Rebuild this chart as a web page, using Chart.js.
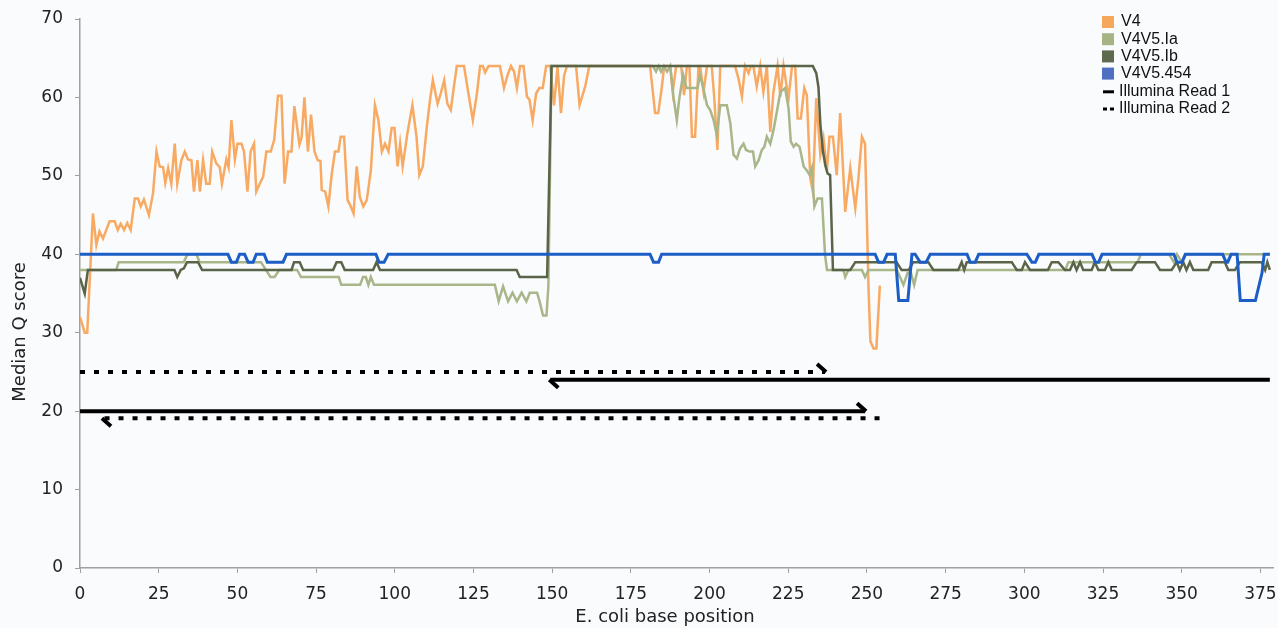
<!DOCTYPE html>
<html>
<head>
<meta charset="utf-8">
<script src="https://cdn.jsdelivr.net/npm/chart.js@4.4.1/dist/chart.umd.min.js"></script>
<style>
  html, body { margin: 0; padding: 0; background: #fafbfd; }
  #wrap { width: 1278px; height: 628px; }
</style>
</head>
<body>
<div id="wrap"><canvas id="qChart" width="1278" height="628"></canvas></div>
<script>
// Median Q score along E. coli base position (vertices)
const v4Pos = [0,1.5,2.3,4.1,5.2,6.2,7.3,9.4,11,12,12.9,14,15,16.1,17.4,18.4,19.3,20.3,21.9,23.2,24.3,25.3,26.4,27.1,28,29,30.1,30.9,32.2,33.3,34.3,35.4,36.2,37.3,38.1,39.1,40.1,41.2,42,43.3,44.4,45.1,46.5,47.2,48.1,49.2,50,51.3,52.1,53.2,54.2,55.3,56,57.1,58.2,59.2,60.6,61.7,62.9,64,65,66.1,67.2,68.1,69.7,70.4,71.3,72.4,73.4,74.5,75.5,76.4,76.8,77.9,78.9,80,81,82.1,82.8,83.9,85,85.8,86.9,87.9,88.9,90,91.1,92.4,93.7,94.8,95.9,96.9,98,99,99.9,100.9,101.7,102.5,104,105.6,106.9,107.8,108.9,110.2,111.2,112.1,113.6,114.6,115.7,116.7,117.8,118.8,119.7,122,123.4,124.8,126.1,127.1,128,128.7,129.8,133.4,134.7,135.8,136.9,137.9,138.8,139.8,140.9,142,142.8,143.8,144.9,145.9,147,148.1,149.4,150.6,151.7,152.8,153.8,154.7,157.6,158.7,160.5,161.8,181.1,182.7,183.7,184.8,185.6,187.5,188.3,189.4,191,191.9,192.8,193.6,194.4,195.4,196.5,197,198.1,199.2,200.7,201.5,202.5,203.4,208.1,209.2,210.3,211.3,212.4,213.1,213.9,215,216.1,217.1,218.2,219.3,220.3,221.6,222.5,223.5,225.1,226.2,227.2,228,229,230.1,230.9,232,232.8,233.9,235.2,236.2,237.3,238.1,239.2,240.4,241.5,243.1,244.7,246.3,247.3,248.4,249.4,250.5,251.1,252.1,253,254.1];
const v4Q = [32,30,30,45.2,41.2,42.9,42,44.2,44.2,43.1,43.9,43.1,44,43.1,47.1,47.1,46.1,47,45,47.8,53.1,51.2,51.1,49.1,51,49,54.1,49,52,53.1,52.1,52,48,52,48,52,49,49,53.1,51.6,51.1,49,52.1,51.1,57.1,52.1,54.1,54.1,53.1,48,53.1,54.1,48,49,49.9,53.1,53.1,54.6,60.2,60.2,49,53.1,53.1,58.9,54,54.9,60,53.1,57.8,53.1,52,51.9,48.2,48,46.1,50.3,53.1,53.1,55,55,46.9,46.3,45.2,51.2,47.3,46.1,46.9,50.7,59,57.1,53.1,54.1,53.1,56.1,56.1,51.2,54.1,51.2,55.4,59,55,50.1,51.2,56.3,59.7,62.2,59.2,60.5,62.2,59.2,58.4,61.4,64,64,60.5,57.1,60.5,64,64,63.2,64,64,61.2,62.8,64,63.3,61.2,64,64,60.1,59.7,57.1,60.5,61.2,61.2,64,64,59,63.9,58,62.8,64,64,59,61.4,64,64,58,58,61.2,64,64,60.7,64,64,60.3,64,64,55,55,64,64,60.7,64,64,59.9,53.3,64,64,62.4,60.1,64,63.1,64,64,61.4,64,60.7,64,55.6,60.7,64,60.1,64,59.9,64,64,57.3,57.3,61.2,60.3,49.7,48,59.9,52.7,54.8,50.7,55,55,50.1,58,45.4,51,45.9,49.7,55,54.1,35.7,28.9,28,28,36];

const iaPos = [0,11.5,12.3,33,34.1,37,38,57.5,60.5,61.8,63.3,69,70.2,82.2,83,89,89.9,90.8,91.6,92.4,93.4,131.8,133,134.4,136,137.4,138.8,140.3,141.8,142.9,145.2,146,147.1,148.2,148.8,149.8,182,183,183.8,184.6,185.5,186.5,187.5,188.6,189.6,190.4,191.6,192.7,195.2,196.2,197,198,199.2,200.2,201.3,202.3,203.4,205.5,206.6,207.6,208.7,209.7,210.8,211.6,212.7,213.8,214.5,215.6,216.6,217.4,218.2,219.3,220.3,221.4,222.5,224,225.1,225.8,226.7,227.5,228.6,229.9,230.9,231.8,232.5,233.3,234.3,235.7,236.7,237.3,242.5,243.1,244.1,248.4,249.4,250.5,259.5,261.6,262.9,264,265,266.1,313,314,336,337,346,347.5,348.5,350,351,378];
const iaQ = [38,38,39,39,40,40,39,39,37.1,37.1,38,38,37.1,37.1,36.1,36.1,37.1,37.1,36.1,37.1,36.1,36.1,34,35.9,34,35.1,34,35.1,34,35.1,35.1,34,32.2,32.2,36,64,64,63.3,64,63.3,64,63.3,64,59.9,57.1,59.9,62.9,61.2,61.2,61.2,62.9,61.2,59,58.4,57.1,55.2,59,59,56.7,52.7,52.2,53.5,54.1,53.3,53.1,53.1,51.2,52,53.3,53.7,55,54.1,55.8,58.2,60.7,61.2,58.6,54.4,53.7,54.1,53.7,51.2,50.7,50.1,51,46.1,47.1,47.1,39.9,38,38,37.1,38,38,37.1,38,38,36.1,37.6,37.6,36.1,38,38,39,39,40,40,39,40,39,40,40];

const ibPos = [0,1.5,2.5,30,30.9,32,33,34,37.5,38.8,67.2,68,69.8,70.9,80.4,81.5,83,84.1,93.1,94.2,95.3,138.7,139.7,148.4,149.8,232.8,233.9,234.6,235.2,236,236.8,237.5,238.3,239.2,244.7,246.3,259.4,261,263.3,264.7,269.5,271.1,279,280.1,280.9,281.7,296,297.6,299.2,300.2,301.8,307.5,308.7,310.8,312.9,314.5,315.6,316.6,317.7,318.7,321.4,322.4,323.5,325.6,326.7,327.8,334.1,335.7,341.5,343.1,346.8,348.4,349.4,350.5,351.5,352.6,353.7,358.4,359.5,363.7,364.8,366.9,368.5,375.4,376.5,377.2,378];
const ibQ = [37,35,38,38,37.1,38,38.2,39,39,38,38,39,39,38,38,39,39,38,38,39,38,38,37.1,37.1,64,64,63.1,61.3,56.6,53.2,51.3,50.3,50.1,38,38,39,39,38,38,39,39,38,38,39,38,39,39,38,38,39,38,38,39,39,38,38,39,38,39,38,38,39,38,38,39,38,38,39,39,38,38,39,38,39,38,39,38,38,39,39,38,38,39,39,38,39,38];

const p454Pos = [0,47,48.1,49.7,50.7,52.3,53.4,55,56,58.5,59.5,64.5,65.6,94,95,96.6,97.9,181.1,182.2,183.8,184.8,252.6,253.7,255.3,256.4,259,260.1,263,264.3,265.3,266.9,268.8,270.1,281.8,282.8,284.4,285.5,300.8,302.4,303.5,304.6,321.5,322.6,323.6,324.7,347.5,348.5,350.1,351.2,363,364.1,364.6,365.7,367.6,368.6,373.4,375.5,376.2,378];
const p454Q = [40,40,39,39,40,40,39,39,40,40,39,39,40,40,39,39,40,40,39,39,40,40,39,39,40,40,34.1,34.1,40,40,39,39,40,40,39,39,40,40,39,39,40,40,39,39,40,40,39,39,40,40,39,39,40,40,34.1,34.1,37.6,40,40];

// Illumina reads: start, arrow tip, Q level
const readNames = ['Illumina Read 1', 'Illumina Read 1', 'Illumina Read 2', 'Illumina Read 2'];
const readFrom = [0, 378, 0, 254];
const readTo = [249.4, 149.4, 236.7, 7.3];
const readQ = [20, 24, 25, 19.1];

const seriesNames = ['V4', 'V4V5.Ia', 'V4V5.Ib', 'V4V5.454'];
const yTicks = [0, 10, 20, 30, 40, 50, 60, 70];

const lineColors = ['#f8aa62', '#a8b68a', '#5a6448', '#1c5ec6'];
const legendColors = ['#f5a85c', '#a6b485', '#5e6a4e', '#4f6fc0'];

function toPoints(xs, ys) {
  return xs.map((x, i) => ({ x: x, y: ys[i] }));
}

const seriesData = [
  toPoints(v4Pos, v4Q),
  toPoints(iaPos, iaQ),
  toPoints(ibPos, ibQ),
  toPoints(p454Pos, p454Q)
];

const datasets = seriesNames.map((name, i) => ({
  label: name,
  data: seriesData[i],
  borderColor: lineColors[i],
  borderWidth: i === 3 ? 3 : 2.5,
  pointRadius: 0,
  tension: 0,
  order: 4 - i + 1
}));

readFrom.forEach((from, i) => {
  datasets.push({
    label: readNames[i],
    data: [{ x: from, y: readQ[i] }, { x: readTo[i], y: readQ[i] }],
    borderColor: '#000',
    borderWidth: 4,
    borderDash: readNames[i].endsWith('2') ? [5, 9] : [],
    borderCapStyle: 'butt',
    pointRadius: 0,
    order: 0
  });
});

// half arrow heads at the read tips
const readArrows = {
  id: 'readArrows',
  afterDatasetsDraw(chart) {
    const { ctx, scales: { x, y } } = chart;
    ctx.save();
    ctx.strokeStyle = '#000';
    ctx.lineWidth = 4;
    readFrom.forEach((from, i) => {
      const tx = x.getPixelForValue(readTo[i]);
      const ty = y.getPixelForValue(readQ[i]);
      const dir = readTo[i] > from ? 1 : -1;
      ctx.beginPath();
      ctx.moveTo(tx + dir * 1, ty);
      ctx.lineTo(tx - dir * 8, ty - dir * 8);
      ctx.stroke();
    });
    ctx.restore();
  }
};

// legend in the top right corner + axis titles
const cornerLegend = {
  id: 'cornerLegend',
  afterDraw(chart) {
    const ctx = chart.ctx;
    const left = 1102, top = 22, row = 17.2;
    ctx.save();
    ctx.font = '16px "Liberation Sans", Arial, sans-serif';
    ctx.textBaseline = 'middle';
    ctx.fillStyle = '#111';
    seriesNames.forEach((name, i) => {
      const cy = top + i * row;
      ctx.fillStyle = legendColors[i];
      ctx.fillRect(left, cy - 6, 12, 12);
      ctx.fillStyle = '#111';
      ctx.fillText(name, left + 19, cy);
    });
    ['Illumina Read 1', 'Illumina Read 2'].forEach((name, j) => {
      const cy = top + (4 + j) * row + 1;
      ctx.strokeStyle = '#000';
      ctx.lineWidth = 3;
      ctx.setLineDash(j === 1 ? [4, 3] : []);
      ctx.beginPath();
      ctx.moveTo(left + 1, cy);
      ctx.lineTo(left + 12, cy);
      ctx.stroke();
      ctx.setLineDash([]);
      ctx.fillText(name, left + 17, cy);
    });

    ctx.font = '18px "DejaVu Sans", sans-serif';
    ctx.fillStyle = '#222';
    ctx.textAlign = 'center';
    ctx.fillText('E. coli base position', 665, 617);
    ctx.translate(20, 332);
    ctx.rotate(-Math.PI / 2);
    ctx.fillText('Median Q score', 0, 0);
    ctx.restore();
  }
};

const tickFont = { family: '"DejaVu Sans", sans-serif', size: 17 };

new Chart(document.getElementById('qChart').getContext('2d'), {
  type: 'line',
  data: { datasets: datasets },
  options: {
    responsive: false,
    animation: false,
    layout: { padding: { top: 19, right: 5, left: 0, bottom: 0 } },
    plugins: { legend: { display: false }, tooltip: { enabled: false } },
    scales: {
      x: {
        type: 'linear',
        min: 0,
        max: 379,
        border: { color: '#a0a0a0', width: 1.5 },
        grid: { drawOnChartArea: false, drawTicks: true, tickLength: 5, color: '#a0a0a0' },
        ticks: { stepSize: 25, includeBounds: false, font: tickFont, color: '#222', padding: 11, maxRotation: 0 },
        afterFit(scale) {
          scale.height = 60;
          scale.paddingLeft = 0;
          scale.paddingRight = 0;
        }
      },
      y: {
        min: 0,
        max: 70,
        border: { color: '#a0a0a0', width: 1.5 },
        grid: { drawOnChartArea: false, drawTicks: true, tickLength: 5, color: '#a0a0a0' },
        afterBuildTicks(scale) { scale.ticks = yTicks.map(v => ({ value: v })); },
        ticks: { font: tickFont, color: '#222', padding: 12 },
        afterFit(scale) {
          scale.width = 80;
          scale.paddingTop = 0;
          scale.paddingBottom = 0;
        }
      }
    }
  },
  plugins: [readArrows, cornerLegend]
});
</script>
</body>
</html>
